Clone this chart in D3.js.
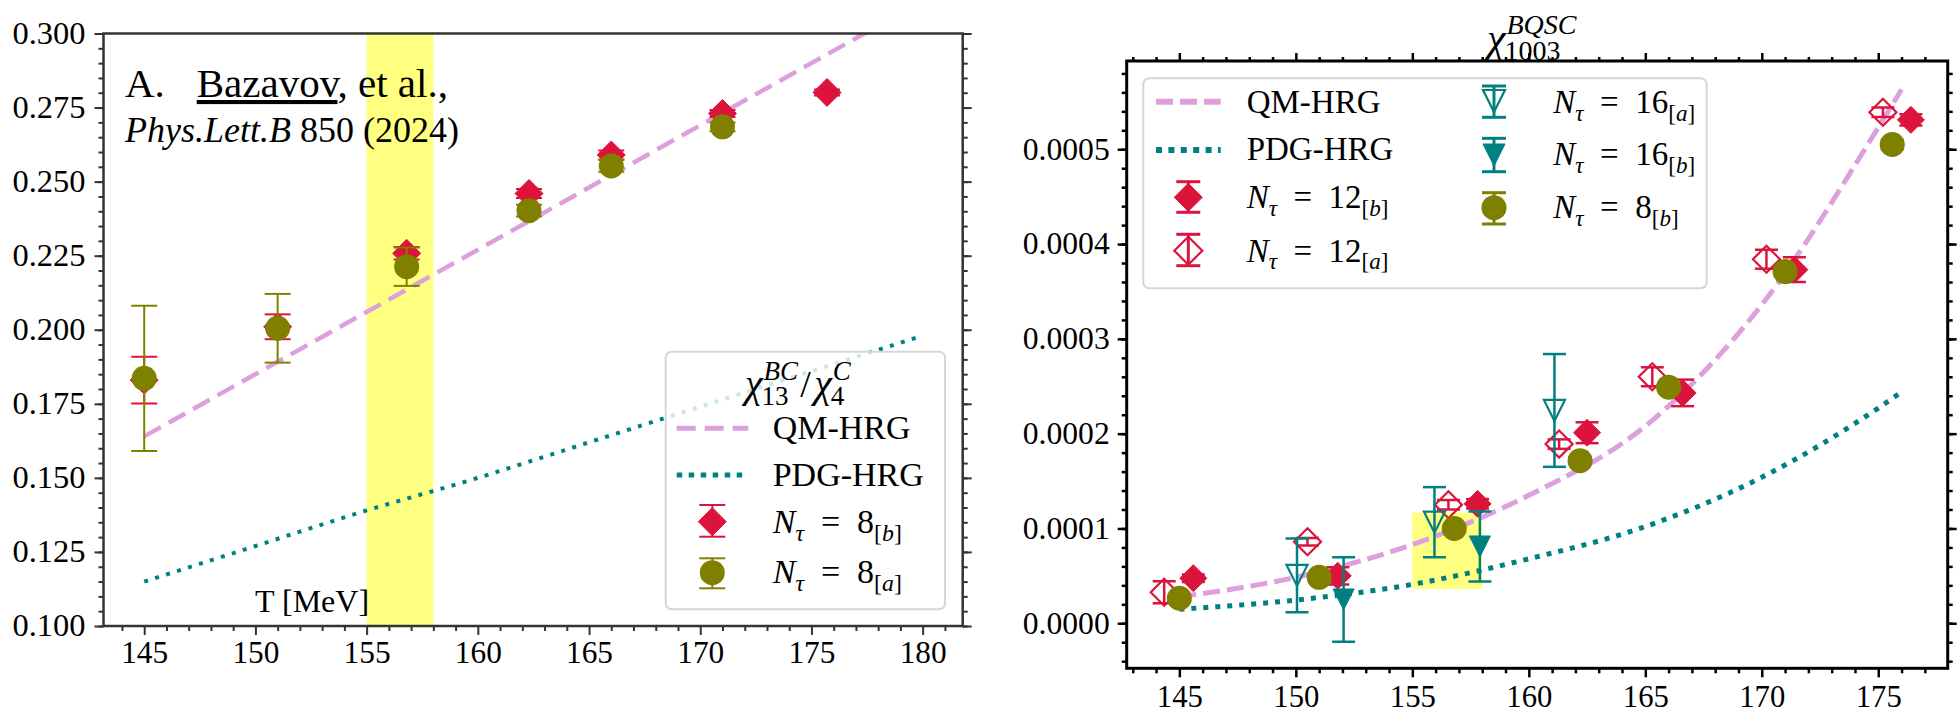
<!DOCTYPE html>
<html>
<head>
<meta charset="utf-8">
<script src="https://cdn.jsdelivr.net/npm/d3@7"></script>
<style>
  body { margin: 0; background: #fff; }
  svg { display: block; }
  text { font-family: "Liberation Serif", "Times New Roman", serif; fill: #000; white-space: pre; }
</style>
</head>
<body>
<svg id="chart" width="1959" height="712"></svg>
<script>
// ---- left panel: chi13BC / chi4C ----
var leftLineT = [145, 150, 155, 160, 165, 170, 175, 180];
var leftQM    = [0.164, 0.185, 0.206, 0.227, 0.248, 0.269, 0.290, 0.311];
var leftPDG   = [0.115, 0.127, 0.139, 0.150, 0.162, 0.174, 0.186, 0.198];

var leftT8b   = [145, 151, 156.8, 162.3, 166, 171, 175.7];
var left8b    = [0.1830, 0.2010, 0.2258, 0.2460, 0.2590, 0.2730, 0.2801];
var left8bErr = [0.0079, 0.0042, 0.0021, 0.0015, 0.0015, 0.0012, 0.0010];

var leftT8a   = [145, 151, 156.8, 162.3, 166, 171];
var left8a    = [0.1836, 0.2005, 0.2213, 0.2402, 0.2553, 0.2685];
var left8aErr = [0.0245, 0.0116, 0.0065, 0.0020, 0.0020, 0.0015];

var leftXTicks = [145, 150, 155, 160, 165, 170, 175, 180];
var leftYTicks = [0.100, 0.125, 0.150, 0.175, 0.200, 0.225, 0.250, 0.275, 0.300];

// ---- right panel: chi1003 BQSC (values in units of 1e-4) ----
var rightLineT = [145, 150, 155, 160, 165, 170, 175, 176];
var rightQM    = [0.28, 0.485, 0.83, 1.35, 2.08, 3.36, 5.23, 5.63];
var rightPDG   = [0.148, 0.245, 0.41, 0.68, 1.02, 1.54, 2.27, 2.44];

var rT12b   = [145.6, 151.8, 157.8, 162.5, 166.6, 171.4, 176.4];
var r12b    = [0.475, 0.50, 1.26, 2.01, 2.43, 3.73, 5.31];
var r12bErr = [0.04, 0.09, 0.05, 0.11, 0.14, 0.13, 0.06];

var rT12a   = [144.35, 150.5, 156.55, 161.3, 165.3, 170.2, 175.2];
var r12a    = [0.327, 0.86, 1.25, 1.89, 2.60, 3.84, 5.39];
var r12aErr = [0.115, 0.04, 0.05, 0.05, 0.10, 0.10, 0.05];

var rT16a   = [150.05, 155.95, 161.1];
var r16a    = [0.505, 1.066, 2.245];
var r16aErr = [0.39, 0.37, 0.595];

var rT16b   = [152.05, 157.9];
var r16b    = [0.251, 0.81];
var r16bErr = [0.445, 0.37];

var rT8b   = [145, 151, 156.8, 162.2, 166, 171, 175.6];
var r8b    = [0.264, 0.485, 1.00, 1.715, 2.49, 3.71, 5.05];
var r8bErr = [0.01, 0.015, 0.02, 0.02, 0.03, 0.04, 0.05];

var rightXTicks = [145, 150, 155, 160, 165, 170, 175];
var rightYTicks = [0, 1, 2, 3, 4, 5];

var RED = "#dc143c", OLIVE = "#808000", TEAL = "#008080", PLUM = "#dda0dd", YEL = "#ffff80";

var svg = d3.select("#chart");

function zip(T, V, E) {
  return T.map(function(t, i) { return {t: t, v: V[i], e: E ? E[i] : 0}; });
}

function markerPath(kind, s) {
  if (kind == "diamond") return "M0," + (-s) + "L" + s + ",0L0," + s + "L" + (-s) + ",0Z";
  if (kind == "tri") return "M" + (-s) + "," + (-s) + "L" + s + "," + (-s) + "L0," + s + "Z";
  return null;
}

// errorbar + marker, matplotlib style
function drawSeries(g, x, y, data, o) {
  var s = g.append("g");
  data.forEach(function(d) {
    var cx = x(d.t), cy = y(d.v);
    drawMarker(s, cx, cy, y(d.v + d.e) - cy, y(d.v - d.e) - cy, o);
  });
}

function drawMarker(s, cx, cy, up, dn, o) {
  s.append("line").attr("x1", cx).attr("x2", cx).attr("y1", cy + up).attr("y2", cy + dn)
    .attr("stroke", o.color).attr("stroke-width", o.sw);
  [up, dn].forEach(function(dy) {
    s.append("line").attr("x1", cx - o.cap).attr("x2", cx + o.cap)
      .attr("y1", cy + dy).attr("y2", cy + dy)
      .attr("stroke", o.color).attr("stroke-width", o.sw);
  });
  if (o.kind == "circle") {
    s.append("circle").attr("cx", cx).attr("cy", cy).attr("r", o.size).attr("fill", o.color);
  } else {
    s.append("path").attr("d", markerPath(o.kind, o.size))
      .attr("transform", "translate(" + cx + "," + cy + ")")
      .attr("fill", o.open ? "none" : o.color)
      .attr("stroke", o.color).attr("stroke-width", o.open ? 2.2 : 1);
  }
}

function curve(g, x, y, T, V, o) {
  var line = d3.line().x(function(d) { return x(d.t); }).y(function(d) { return y(d.v); })
    .curve(d3.curveMonotoneX);
  g.append("path").datum(zip(T, V)).attr("d", line).attr("fill", "none")
    .attr("stroke", o.color).attr("stroke-width", o.w).attr("stroke-dasharray", o.dash);
}

// text with sub/superscripts built from tspans
function rich(g, x, y, size, parts) {
  var t = g.append("text").attr("x", x).attr("y", y).style("font-size", size + "px");
  var cur = 0;
  parts.forEach(function(p) {
    var shift = p.sub ? size * 0.24 : (p.sup ? -size * 0.42 : 0);
    t.append("tspan").attr("dy", shift - cur)
      .style("font-style", p.i ? "italic" : "normal")
      .style("font-size", (p.sub || p.sup ? size * 0.7 : size) + "px")
      .text(p.t);
    cur = shift;
  });
  return t;
}

function chi(g, x, y, size, sup, sub, subSize) {
  var base = g.append("text").attr("x", x).attr("y", y).style("font-size", size + "px")
    .style("font-style", "italic").text("χ");
  var w = base.node().getComputedTextLength();
  var a = g.append("text").attr("x", x + w + 1).attr("y", y - size * 0.42)
    .style("font-size", subSize + "px").style("font-style", "italic").text(sup);
  var b = g.append("text").attr("x", x + w - 1).attr("y", y + size * 0.2)
    .style("font-size", subSize + "px").text(sub);
  return x + w + Math.max(a.node().getComputedTextLength(), b.node().getComputedTextLength());
}

function nlabel(g, x, y, size, num, tag) {
  return rich(g, x, y, size, [
    {t: "N", i: true}, {t: "τ", i: true, sub: true}, {t: "\u2002=\u2002" + num},
    {t: "[", sub: true}, {t: tag, i: true, sub: true}, {t: "]", sub: true}
  ]);
}

function axes(box, xd, yd) {
  var x = d3.scaleLinear().domain(xd).range([box.l, box.r]);
  var y = d3.scaleLinear().domain(yd).range([box.b, box.t]);
  var id = "clip" + Math.round(box.l);
  svg.append("clipPath").attr("id", id).append("rect")
    .attr("x", box.l).attr("y", box.t).attr("width", box.r - box.l).attr("height", box.b - box.t);
  var plot = svg.append("g").attr("clip-path", "url(#" + id + ")");
  return {x: x, y: y, plot: plot, box: box};
}

function ticks(a, st) {
  var box = a.box, g = svg.append("g");
  function put(axis, tr, vals, len, fmt, tl, pad) {
    var ax = g.append("g").attr("transform", tr)
      .call(axis.tickValues(vals).tickSize(len).tickSizeOuter(0).tickPadding(pad || st.pad).tickFormat(fmt || ""));
    ax.select(".domain").remove();
    ax.selectAll("line").attr("stroke", st.color).attr("stroke-width", st.tw);
    ax.selectAll("text").style("font-family", "Liberation Serif").style("font-size", st.fs + "px").attr("fill", "#000");
    if (tl) ax.selectAll("text").attr("textLength", tl).attr("lengthAdjust", "spacingAndGlyphs");
    return ax;
  }
  put(d3.axisBottom(a.x), "translate(0," + box.b + ")", st.xMinor, 5);
  put(d3.axisBottom(a.x), "translate(0," + box.b + ")", st.xMajor, 9, st.xFmt, st.xLen, st.xPad);
  put(d3.axisLeft(a.y), "translate(" + box.l + ",0)", st.yMinor, 5);
  put(d3.axisLeft(a.y), "translate(" + box.l + ",0)", st.yMajor, 9, st.yFmt, st.yLen);
  put(d3.axisRight(a.y), "translate(" + box.r + ",0)", st.yMinor, 5);
  put(d3.axisRight(a.y), "translate(" + box.r + ",0)", st.yMajor, 9);
  if (st.top) {
    put(d3.axisTop(a.x), "translate(0," + box.t + ")", st.xMinor, 4);
    put(d3.axisTop(a.x), "translate(0," + box.t + ")", st.xMajor, 8);
  }
  g.append("rect").attr("x", box.l).attr("y", box.t).attr("width", box.r - box.l).attr("height", box.b - box.t)
    .attr("fill", "none").attr("stroke", st.color).attr("stroke-width", st.sw);
}

// ================= LEFT PANEL =================
var L = axes({l: 103.5, r: 962.7, t: 33.5, b: 626}, [143.17, 181.8], [0.1, 0.3]);

L.plot.append("rect").attr("x", L.x(155)).attr("y", L.box.t)
  .attr("width", L.x(158) - L.x(155)).attr("height", L.box.b - L.box.t).attr("fill", YEL);

curve(L.plot, L.x, L.y, leftLineT, leftQM, {color: PLUM, w: 4.5, dash: "19,9"});
curve(L.plot, L.x, L.y, leftLineT, leftPDG, {color: TEAL, w: 4, dash: "4,7.5"});

drawSeries(L.plot, L.x, L.y, zip(leftT8b, left8b, left8bErr), {color: RED, kind: "diamond", size: 14, cap: 13, sw: 2});
drawSeries(L.plot, L.x, L.y, zip(leftT8a, left8a, left8aErr), {color: OLIVE, kind: "circle", size: 12.5, cap: 13, sw: 2});

ticks(L, {
  color: "#333", tw: 2, sw: 2.5, fs: 31, pad: 9, xPad: 6, xLen: 47, yLen: 73,
  xMajor: leftXTicks, xMinor: d3.range(144, 182, 1).filter(function(v) { return v % 5 != 0; }),
  yMajor: leftYTicks, yMinor: d3.range(0.1, 0.3001, 0.005),
  xFmt: d3.format("d"), yFmt: d3.format(".3f")
});

var note = svg.append("text").attr("x", 125).attr("y", 97).style("font-size", "41px");
note.append("tspan").text("A.");
note.append("tspan").attr("x", 196.7).style("text-decoration", "underline").text("Bazavov");
note.append("tspan").text(", et al.,");
var note2 = svg.append("text").attr("x", 125).attr("y", 142).style("font-size", "36px");
note2.append("tspan").style("font-style", "italic").text("Phys.Lett.B");
note2.append("tspan").text(" 850 (2024)");

svg.append("text").attr("x", 255).attr("y", 612).style("font-size", "32px").text("T [MeV]");

// left legend
var lg = svg.append("g");
lg.append("rect").attr("x", 665.7).attr("y", 351.7).attr("width", 279.3).attr("height", 257.6)
  .attr("rx", 6).attr("fill", "#fff").attr("fill-opacity", 0.8).attr("stroke", "#d6d6d6").attr("stroke-width", 2);
var cx1 = chi(lg, 745, 397, 40, "BC", "13", 27);
lg.append("text").attr("x", cx1 + 3).attr("y", 397).style("font-size", "38px").text("/");
chi(lg, cx1 + 17, 397, 40, "C", "4", 27);
lg.append("line").attr("x1", 676.7).attr("x2", 748.3).attr("y1", 428.3).attr("y2", 428.3)
  .attr("stroke", PLUM).attr("stroke-width", 5).attr("stroke-dasharray", "19,9");
lg.append("line").attr("x1", 676.7).attr("x2", 748.3).attr("y1", 475).attr("y2", 475)
  .attr("stroke", TEAL).attr("stroke-width", 5).attr("stroke-dasharray", "5.5,6.5");
lg.append("text").attr("x", 772.7).attr("y", 439).style("font-size", "34px").text("QM-HRG");
lg.append("text").attr("x", 772.7).attr("y", 486).style("font-size", "34px").text("PDG-HRG");
drawMarker(lg, 712.3, 521.7, -16.7, 15, {color: RED, kind: "diamond", size: 14, cap: 13, sw: 2});
drawMarker(lg, 712.3, 572.7, -14.4, 15.6, {color: OLIVE, kind: "circle", size: 12.5, cap: 13, sw: 2});
nlabel(lg, 772.7, 533, 34, "8", "b");
nlabel(lg, 772.7, 583, 34, "8", "a");

// ================= RIGHT PANEL =================
var tg = svg.append("g");
chi(tg, 1487, 52, 42, "BQSC", "1003", 28);

svg.append("rect").attr("x", 1126.7).attr("y", 61).attr("width", 821).attr("height", 607.3).attr("fill", "#fff");
var R = axes({l: 1126.7, r: 1947.7, t: 61, b: 668.3}, [142.74, 177.98], [-0.475, 5.931]);

R.plot.append("rect").attr("x", R.x(155)).attr("y", R.y(1.167))
  .attr("width", R.x(158) - R.x(155)).attr("height", R.y(0.362) - R.y(1.167)).attr("fill", YEL);

curve(R.plot, R.x, R.y, rightLineT, rightQM, {color: PLUM, w: 5, dash: "17,7"});
curve(R.plot, R.x, R.y, rightLineT, rightPDG, {color: TEAL, w: 5, dash: "5,7"});

var rs = {sw: 2.5, cap: 11.5};
drawSeries(R.plot, R.x, R.y, zip(rT12b, r12b, r12bErr), {color: RED, kind: "diamond", size: 13.5, cap: rs.cap, sw: rs.sw});
drawSeries(R.plot, R.x, R.y, zip(rT12a, r12a, r12aErr), {color: RED, kind: "diamond", open: true, size: 13.5, cap: rs.cap, sw: rs.sw});
drawSeries(R.plot, R.x, R.y, zip(rT16a, r16a, r16aErr), {color: TEAL, kind: "tri", open: true, size: 10.5, cap: rs.cap, sw: rs.sw});
drawSeries(R.plot, R.x, R.y, zip(rT16b, r16b, r16bErr), {color: TEAL, kind: "tri", size: 10.5, cap: rs.cap, sw: rs.sw});
drawSeries(R.plot, R.x, R.y, zip(rT8b, r8b, r8bErr), {color: OLIVE, kind: "circle", size: 12.5, cap: rs.cap, sw: rs.sw});

ticks(R, {
  color: "#000", tw: 2.5, sw: 3, fs: 31, pad: 8, top: true, xLen: 46, yLen: 87,
  xMajor: rightXTicks, xMinor: d3.range(143, 178, 1).filter(function(v) { return v % 5 != 0; }),
  yMajor: rightYTicks, yMinor: d3.range(-0.4, 5.9, 0.2),
  xFmt: d3.format("d"), yFmt: function(d) { return (d * 1e-4).toFixed(4); }
});

// right legend
var rg = svg.append("g");
rg.append("rect").attr("x", 1143.3).attr("y", 78.3).attr("width", 563.4).attr("height", 210)
  .attr("rx", 6).attr("fill", "#fff").attr("fill-opacity", 0.8).attr("stroke", "#d6d6d6").attr("stroke-width", 2);
rg.append("line").attr("x1", 1156).attr("x2", 1220.7).attr("y1", 101.7).attr("y2", 101.7)
  .attr("stroke", PLUM).attr("stroke-width", 6).attr("stroke-dasharray", "17,7");
rg.append("line").attr("x1", 1156).attr("x2", 1220.7).attr("y1", 150).attr("y2", 150)
  .attr("stroke", TEAL).attr("stroke-width", 6).attr("stroke-dasharray", "6,6.4");
rg.append("text").attr("x", 1246.7).attr("y", 113).style("font-size", "33px").text("QM-HRG");
rg.append("text").attr("x", 1246.7).attr("y", 160).style("font-size", "33px").text("PDG-HRG");
drawMarker(rg, 1188.3, 197.3, -15.6, 15, {color: RED, kind: "diamond", size: 14, cap: 12, sw: 3});
drawMarker(rg, 1188.3, 250.7, -16.4, 15, {color: RED, kind: "diamond", open: true, size: 14, cap: 12, sw: 3});
drawMarker(rg, 1494, 101, -15, 16.3, {color: TEAL, kind: "tri", open: true, size: 11, cap: 12, sw: 3});
drawMarker(rg, 1494, 155, -16.7, 16.7, {color: TEAL, kind: "tri", size: 11, cap: 12, sw: 3});
drawMarker(rg, 1494, 207.7, -15, 16.3, {color: OLIVE, kind: "circle", size: 12.5, cap: 12, sw: 3});
nlabel(rg, 1246.7, 208, 33, "12", "b");
nlabel(rg, 1246.7, 261.5, 33, "12", "a");
nlabel(rg, 1553.3, 113, 33, "16", "a");
nlabel(rg, 1553.3, 165, 33, "16", "b");
nlabel(rg, 1553.3, 218, 33, "8", "b");
</script>
</body>
</html>
